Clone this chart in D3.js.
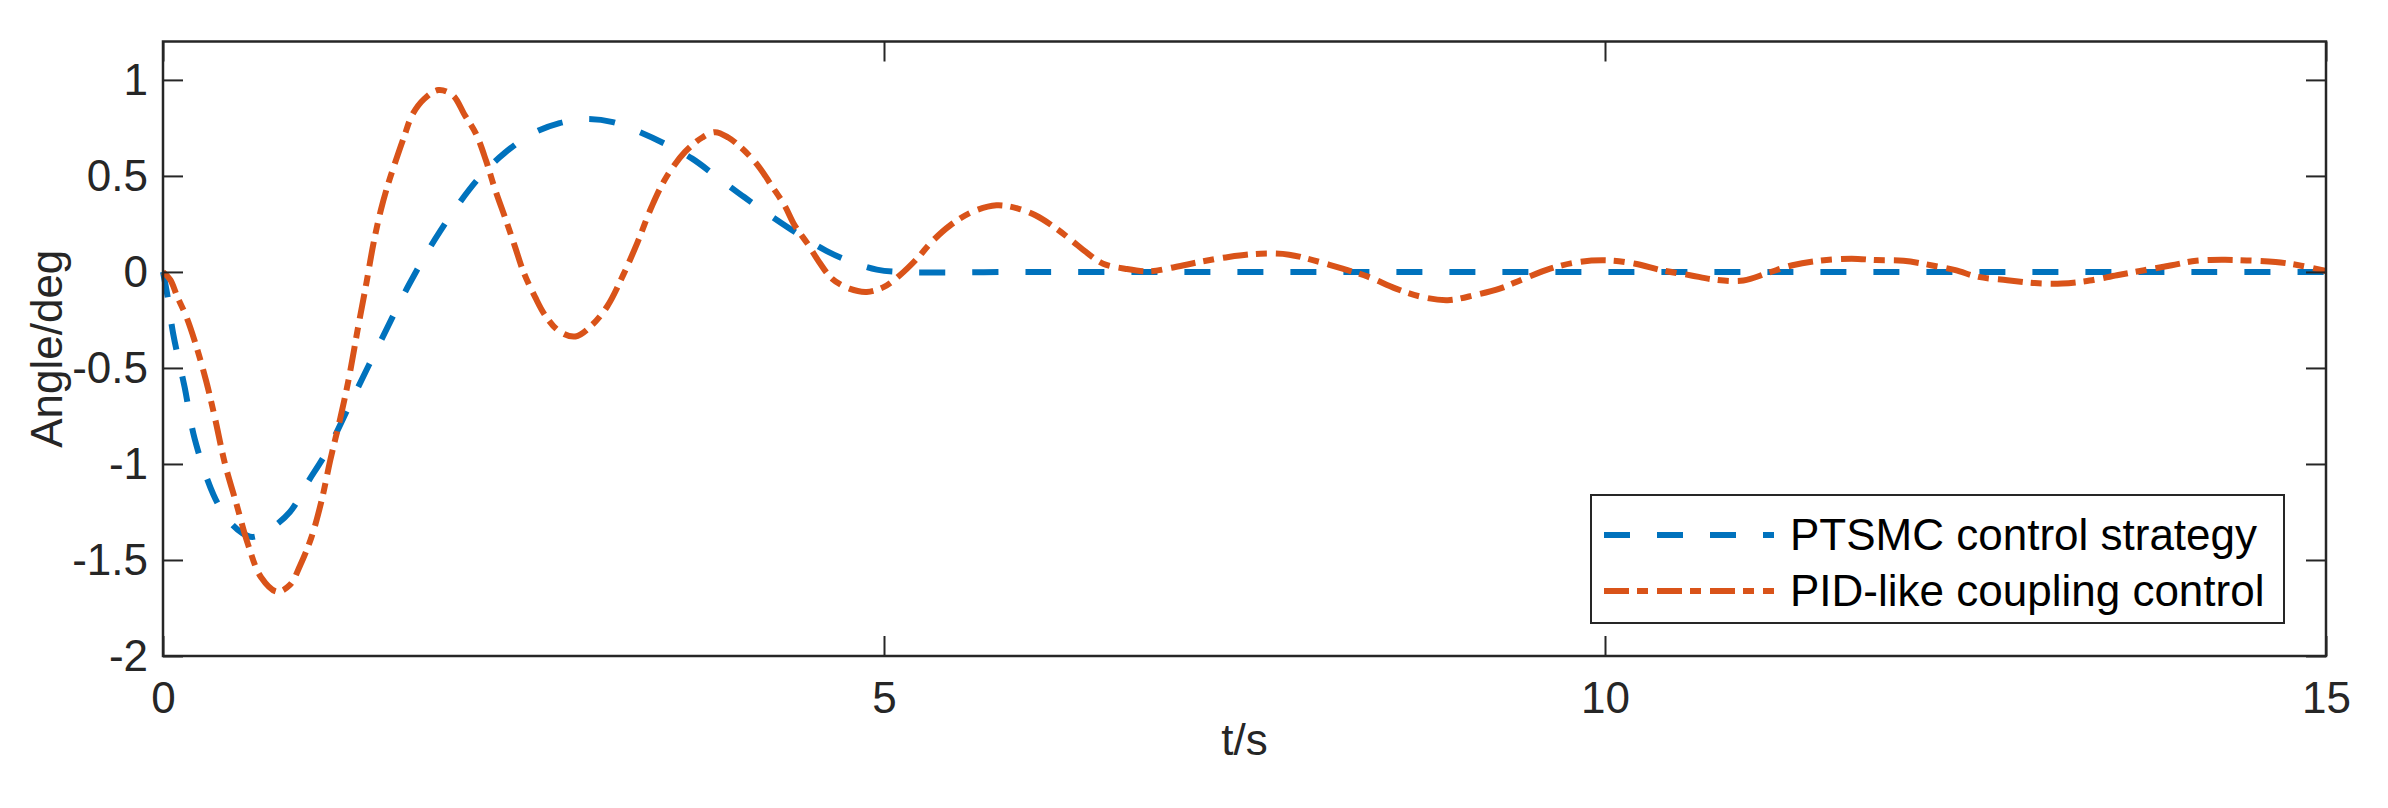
<!DOCTYPE html>
<html>
<head>
<meta charset="utf-8">
<script src="https://cdn.jsdelivr.net/npm/d3@7"></script>
<style>
  html, body { margin: 0; padding: 0; background: #fff; }
  svg { display: block; }
  text { font-family: "Liberation Sans", Arial, Helvetica, sans-serif; }
</style>
</head>
<body>
<svg id="chart" width="2388" height="808"></svg>
<script>
// ---------------- data ----------------
const xTicks = [0, 5, 10, 15];
const yTicks = [-2, -1.5, -1, -0.5, 0, 0.5, 1];
const seriesNames = ["PTSMC control strategy", "PID-like coupling control"];

const ptsmcT = [0, 0.03, 0.07, 0.15, 0.22, 0.35, 0.45, 0.55, 0.62, 0.72, 0.88, 1.0, 1.14, 1.34, 1.51, 1.71, 1.92, 2.18, 2.37, 2.56, 2.75, 2.93, 3.12, 3.3, 3.5, 3.67, 3.85, 4.03, 4.2, 4.41, 4.6, 4.78, 4.95, 5.1, 6, 7, 8, 9, 10, 11, 12, 13, 14, 15];
const ptsmcV = [0, -0.12, -0.32, -0.60, -0.87, -1.16, -1.29, -1.36, -1.38, -1.35, -1.25, -1.10, -0.93, -0.62, -0.36, -0.06, 0.21, 0.48, 0.62, 0.72, 0.775, 0.796, 0.78, 0.73, 0.66, 0.59, 0.49, 0.39, 0.30, 0.195, 0.11, 0.05, 0.012, 0, 0, 0, 0, 0, 0, 0, 0, 0, 0, 0];

const pidT = [0, 0.05, 0.1, 0.16, 0.22, 0.30, 0.36, 0.43, 0.51, 0.59, 0.68, 0.79, 0.88, 0.95, 1.03, 1.10, 1.16, 1.23, 1.29, 1.35, 1.41, 1.46, 1.51, 1.56, 1.61, 1.67, 1.73, 1.81, 1.91, 2.01, 2.09, 2.17, 2.24, 2.30, 2.38, 2.44, 2.50, 2.58, 2.65, 2.75, 2.86, 2.97, 3.08, 3.19, 3.29, 3.39, 3.49, 3.62, 3.74, 3.83, 3.92, 4.02, 4.13, 4.22, 4.31, 4.38, 4.47, 4.55, 4.64, 4.76, 4.88, 5.00, 5.11, 5.23, 5.33, 5.46, 5.61, 5.78, 5.93, 6.05, 6.18, 6.30, 6.40, 6.52, 6.67, 6.84, 7.02, 7.19, 7.39, 7.61, 7.81, 7.98, 8.18, 8.36, 8.55, 8.73, 8.91, 9.10, 9.27, 9.44, 9.62, 9.82, 10.02, 10.21, 10.39, 10.59, 10.76, 10.96, 11.13, 11.30, 11.50, 11.71, 11.88, 12.07, 12.26, 12.43, 12.59, 12.79, 12.98, 13.17, 13.36, 13.55, 13.74, 13.93, 14.10, 14.29, 14.45, 14.65, 14.81, 15.0];
const pidV = [0, -0.04, -0.13, -0.23, -0.36, -0.57, -0.76, -1.0, -1.21, -1.42, -1.59, -1.665, -1.63, -1.53, -1.38, -1.19, -0.98, -0.76, -0.55, -0.30, -0.06, 0.15, 0.32, 0.455, 0.57, 0.70, 0.82, 0.90, 0.947, 0.92, 0.82, 0.72, 0.58, 0.436, 0.266, 0.134, 0.0, -0.13, -0.226, -0.31, -0.336, -0.28, -0.18, -0.018, 0.153, 0.342, 0.493, 0.625, 0.70, 0.728, 0.70, 0.64, 0.55, 0.45, 0.347, 0.243, 0.147, 0.052, -0.035, -0.087, -0.104, -0.078, -0.017, 0.07, 0.156, 0.243, 0.312, 0.347, 0.33, 0.295, 0.234, 0.165, 0.104, 0.043, 0.017, 0.003, 0.026, 0.052, 0.078, 0.095, 0.09, 0.06, 0.017, -0.026, -0.087, -0.13, -0.147, -0.12, -0.087, -0.035, 0.017, 0.052, 0.06, 0.043, 0.009, -0.017, -0.04, -0.045, -0.005, 0.035, 0.06, 0.069, 0.062, 0.058, 0.035, 0.009, -0.026, -0.043, -0.058, -0.06, -0.045, -0.017, 0.009, 0.035, 0.058, 0.063, 0.06, 0.052, 0.035, 0.005];

// ---------------- layout ----------------
const W = 2388, H = 808;
const plotLeft = 163, plotRight = 2326, plotTop = 41.5, plotBottom = 656;
const axisColor = "#262626";
const fontSize = 44;
const blue = "#0072BD", orange = "#D95319";

const svg = d3.select("#chart");
svg.append("rect").attr("width", W).attr("height", H).attr("fill", "#fff");

const x = d3.scaleLinear().domain([0, 15]).range([plotLeft, plotRight]);
const y = d3.scaleLinear().domain([-2, 1.2]).range([plotBottom, plotTop]);

// lines
const line = d3.line().x(d => x(d[0])).y(d => y(d[1])).curve(d3.curveCatmullRom.alpha(0.5));
const ptsmc = ptsmcT.map((t, i) => [t, ptsmcV[i]]);
const pid = pidT.map((t, i) => [t, pidV[i]]);

const plot = svg.append("g");
plot.append("path").datum(ptsmc).attr("d", line)
  .attr("fill", "none").attr("stroke", blue).attr("stroke-width", 6)
  .attr("stroke-dasharray", "26,27");
plot.append("path").datum(pid).attr("d", line)
  .attr("fill", "none").attr("stroke", orange).attr("stroke-width", 6)
  .attr("stroke-dasharray", "25,8,11,9");

// axes
function styleAxis(g) {
  g.select(".domain").remove();
  g.selectAll(".tick line").attr("stroke", axisColor).attr("stroke-width", 2);
  g.selectAll(".tick text").attr("fill", axisColor)
    .style("font-size", fontSize + "px")
    .style("font-family", '"Liberation Sans", Arial, sans-serif');
}
const fmt = d => String(d);
svg.append("g").attr("transform", `translate(0,${plotBottom})`)
  .call(d3.axisBottom(x).tickValues(xTicks).tickFormat(fmt).tickSizeInner(-20).tickSizeOuter(0).tickPadding(26))
  .call(styleAxis);
svg.append("g").attr("transform", `translate(0,${plotTop})`)
  .call(d3.axisTop(x).tickValues(xTicks).tickFormat("").tickSizeInner(-20).tickSizeOuter(0))
  .call(styleAxis);
svg.append("g").attr("transform", `translate(${plotLeft},0)`)
  .call(d3.axisLeft(y).tickValues(yTicks).tickFormat(fmt).tickSizeInner(-20).tickSizeOuter(0).tickPadding(15))
  .call(styleAxis);
svg.append("g").attr("transform", `translate(${plotRight},0)`)
  .call(d3.axisRight(y).tickValues(yTicks).tickFormat("").tickSizeInner(-20).tickSizeOuter(0))
  .call(styleAxis);

// box
svg.append("rect").attr("x", plotLeft).attr("y", plotTop)
  .attr("width", plotRight - plotLeft).attr("height", plotBottom - plotTop)
  .attr("fill", "none").attr("stroke", axisColor).attr("stroke-width", 2.5);

// axis labels
svg.append("text").attr("x", (plotLeft + plotRight) / 2).attr("y", 755)
  .attr("text-anchor", "middle").attr("fill", axisColor)
  .style("font-size", fontSize + "px").text("t/s");
svg.append("text").attr("transform", `translate(62,${(plotTop + plotBottom) / 2}) rotate(-90)`)
  .attr("text-anchor", "middle").attr("fill", axisColor)
  .style("font-size", fontSize + "px").text("Angle/deg");

// legend
const lg = svg.append("g");
lg.append("rect").attr("x", 1591).attr("y", 495).attr("width", 693).attr("height", 128)
  .attr("fill", "#fff").attr("stroke", axisColor).attr("stroke-width", 2);
const rows = [
  { name: seriesNames[0], color: blue, dash: "26,27", base: 550 },
  { name: seriesNames[1], color: orange, dash: "25,8,11,9", base: 606 }
];
rows.forEach(r => {
  lg.append("line").attr("x1", 1604).attr("x2", 1774)
    .attr("y1", r.base - 15).attr("y2", r.base - 15)
    .attr("stroke", r.color).attr("stroke-width", 6).attr("stroke-dasharray", r.dash);
  lg.append("text").attr("x", 1790).attr("y", r.base).attr("fill", "#000")
    .style("font-size", fontSize + "px").text(r.name);
});
</script>
</body>
</html>
